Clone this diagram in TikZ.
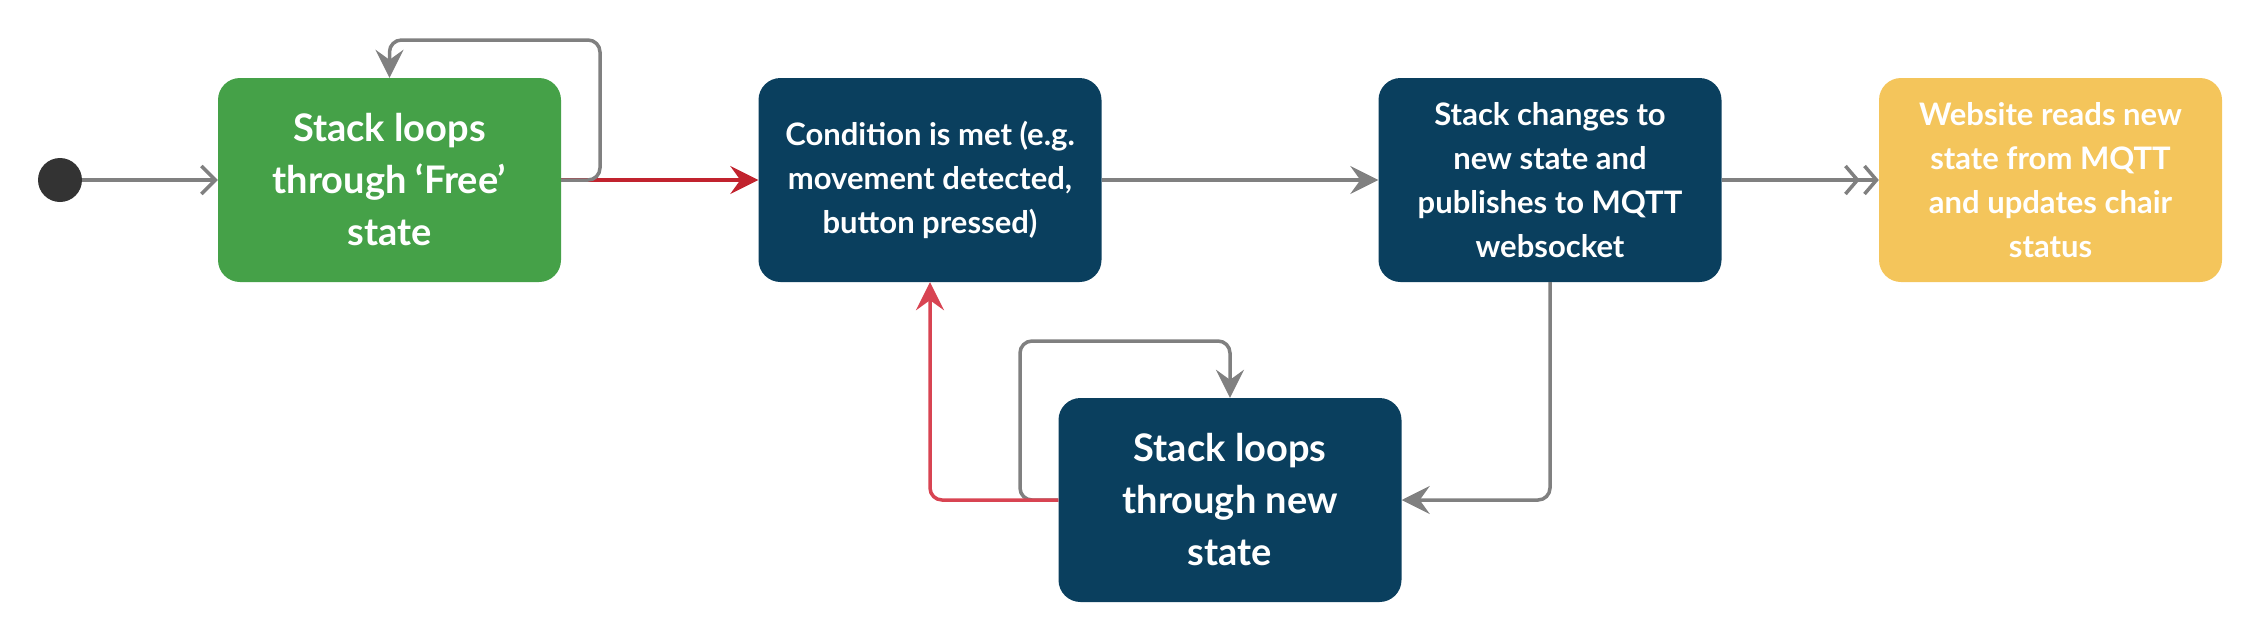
\documentclass[tikz,border=0pt]{standalone}
\usepackage{fontspec}
\setmainfont{Lato}
\usetikzlibrary{arrows.meta}
\definecolor{cgreen}{HTML}{45A148}
\definecolor{cnavy}{HTML}{0A3F5E}
\definecolor{cyellow}{HTML}{F4C55B}
\definecolor{cgrey}{HTML}{808080}
\definecolor{cred}{HTML}{C1232E}
\definecolor{clred}{HTML}{D84452}
\definecolor{cdot}{HTML}{333333}
\begin{document}
\begin{tikzpicture}[x=1pt,y=-1pt,
 box/.style={rounded corners=22pt, minimum width=343pt, minimum height=204pt, text=white, align=center, inner sep=0pt, font=\bfseries\fontsize{31}{44}\selectfont},
 bigbox/.style={box, font=\bfseries\fontsize{38}{52}\selectfont},
 conn/.style={draw=cgrey, line width=3.5pt, rounded corners=12pt},
 tip/.style={-{Stealth[length=28pt,width=28pt,inset=10pt]}},
 barb/.style={-{Straight Barb[length=14pt,width=28pt]}},
 dbarb/.style={-{Straight Barb[length=12pt,width=28pt,sep=3pt] Straight Barb[length=12pt,width=28pt]}},
]
\useasboundingbox (0,0) rectangle (2261,641);
\node[circle, fill=cdot, minimum size=44pt, inner sep=0pt] (init) at (60,180) {};
\node[bigbox, fill=cgreen] (free) at (389.5,180) {Stack loops\\through ‘Free’\\state};
\node[box, fill=cnavy] (cond) at (930,180) {Condition is met (e.g.\\movement detected,\\button pressed)};
\node[box, fill=cnavy] (chg) at (1550,180) {Stack changes to\\new state and\\publishes to MQTT\\websocket};
\node[box, fill=cyellow] (web) at (2050.5,180) {Website reads new\\state from MQTT\\and updates chair\\status};
\node[bigbox, fill=cnavy] (loop) at (1230,500) {Stack loops\\through new\\state};

\draw[conn, barb] (init) -- (free.west);
\draw[line width=3.5pt, draw=cred, tip] (free.east) -- (cond.west);
\draw[conn, tip] (free.east) -| (600,40) -| (free.north);
\draw[conn, tip] (cond.east) -- (chg.west);
\draw[conn, dbarb] (chg.east) -- (web.west);
\draw[conn, tip] (chg.south) |- (loop.east);
\draw[conn, tip] (loop.west) -| (1020,341) -| (loop.north);
\draw[line width=3.5pt, draw=clred, rounded corners=12pt, tip] (loop.west) -| (cond.south);
\end{tikzpicture}
\end{document}
